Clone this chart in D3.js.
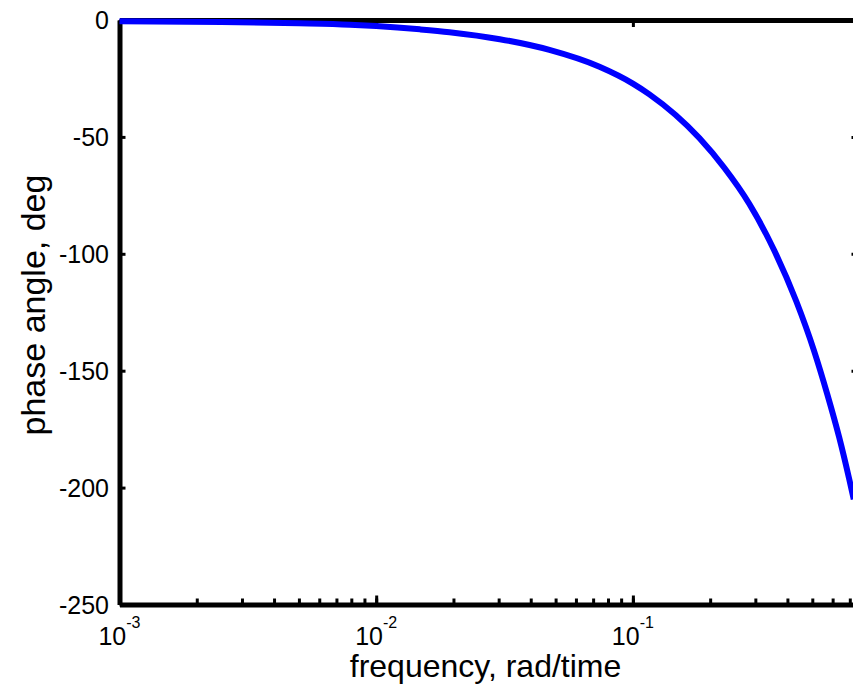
<!DOCTYPE html>
<html>
<head>
<meta charset="utf-8">
<script src="https://cdn.jsdelivr.net/npm/d3@7"></script>
<style>
  html, body { margin: 0; padding: 0; background: #fff; }
  svg { display: block; }
  text { font-family: "Liberation Sans", Arial, sans-serif; fill: #000; }
</style>
</head>
<body>
<svg id="chart" width="853" height="684"></svg>
<script>
// ---- data ----
const freq  = [0.001, 0.0025, 0.005, 0.0079, 0.01, 0.0148, 0.0193, 0.0303, 0.0473, 0.0741,
               0.1, 0.116, 0.1815, 0.227, 0.284, 0.3555, 0.4327, 0.508, 0.571, 0.636, 0.696, 0.725];
const phase = [-0.5, -0.9, -1.4, -2.0, -2.6, -4.0, -5.2, -8.2, -12.8, -20.0,
               -27.2, -31.8, -50.5, -63.2, -78.6, -98.6, -120.2, -141.5, -159.8, -178.4, -196.3, -205];
const yTicks = [0, -50, -100, -150, -200, -250];
const xMajorTicks = [0.001, 0.01, 0.1];
const xTickExponents = ["-3", "-2", "-1"];
const xDomain = [0.001, 0.75];
const yDomain = [-250, 0];
const xLabel = "frequency, rad/time";
const yLabel = "phase angle, deg";

// ---- layout ----
const pLeft = 119.5, pRight = 857.5, pTop = 20, pBottom = 604.5;
const svg = d3.select("#chart");

const x = d3.scaleLog().domain(xDomain).range([pLeft, pRight]);
const y = d3.scaleLinear().domain(yDomain).range([pBottom, pTop]);

const minorTicks = x.ticks().filter(v => v >= xDomain[0] && v <= xDomain[1]);

function styleAxis(g, w) {
  g.select(".domain").attr("stroke", "#000").attr("stroke-width", w);
  g.selectAll(".tick line").attr("stroke", "#000").attr("stroke-width", 3);
  g.selectAll(".tick text").remove();
}

// bottom axis (minor + major)
svg.append("g").attr("transform", `translate(0,${pBottom})`)
  .call(d3.axisBottom(x).tickValues(minorTicks).tickSize(-6).tickSizeOuter(0).tickFormat(""))
  .call(g => styleAxis(g, 5));
svg.append("g").attr("transform", `translate(0,${pBottom})`)
  .call(d3.axisBottom(x).tickValues(xMajorTicks).tickSize(-9).tickSizeOuter(0).tickFormat(""))
  .call(g => { g.select(".domain").remove(); styleAxis(g, 5); });
// top axis (major ticks only)
svg.append("g").attr("transform", `translate(0,${pTop})`)
  .call(d3.axisTop(x).tickValues(xMajorTicks).tickSize(-7).tickSizeOuter(0).tickFormat(""))
  .call(g => styleAxis(g, 5));
// left axis
svg.append("g").attr("transform", `translate(${pLeft},0)`)
  .call(d3.axisLeft(y).tickValues(yTicks).tickSize(-6).tickSizeOuter(0).tickFormat(""))
  .call(g => styleAxis(g, 5));
// right axis
svg.append("g").attr("transform", `translate(${pRight},0)`)
  .call(d3.axisRight(y).tickValues(yTicks).tickSize(-6).tickSizeOuter(0).tickFormat(""))
  .call(g => styleAxis(g, 5));

// y tick labels
svg.append("g").selectAll("text").data(yTicks).join("text")
  .attr("x", 109)
  .attr("y", d => y(d))
  .attr("dy", "0.36em")
  .attr("text-anchor", "end")
  .attr("font-size", 25)
  .text(d => String(d));

// x tick labels: 10^exp
const xl = svg.append("g").selectAll("text").data(xMajorTicks).join("text")
  .attr("x", d => x(d))
  .attr("y", 645)
  .attr("text-anchor", "middle")
  .attr("font-size", 25);
xl.append("tspan").text("10");
xl.append("tspan").attr("font-size", 16).attr("dy", -17).text((d, i) => xTickExponents[i]);

// axis labels
svg.append("text")
  .attr("x", (348 + 623) / 2).attr("y", 677)
  .attr("text-anchor", "middle")
  .attr("font-size", 32)
  .text(xLabel);
svg.append("text")
  .attr("transform", `translate(45,305) rotate(-90)`)
  .attr("text-anchor", "middle")
  .attr("font-size", 34)
  .text(yLabel);

// curve
const line = d3.line()
  .x((d, i) => x(freq[i]))
  .y((d, i) => y(phase[i]))
  .curve(d3.curveMonotoneX);
svg.append("path")
  .datum(phase)
  .attr("d", line)
  .attr("fill", "none")
  .attr("stroke", "#0000ff")
  .attr("stroke-width", 6)
  .attr("stroke-linejoin", "round");
</script>
</body>
</html>
